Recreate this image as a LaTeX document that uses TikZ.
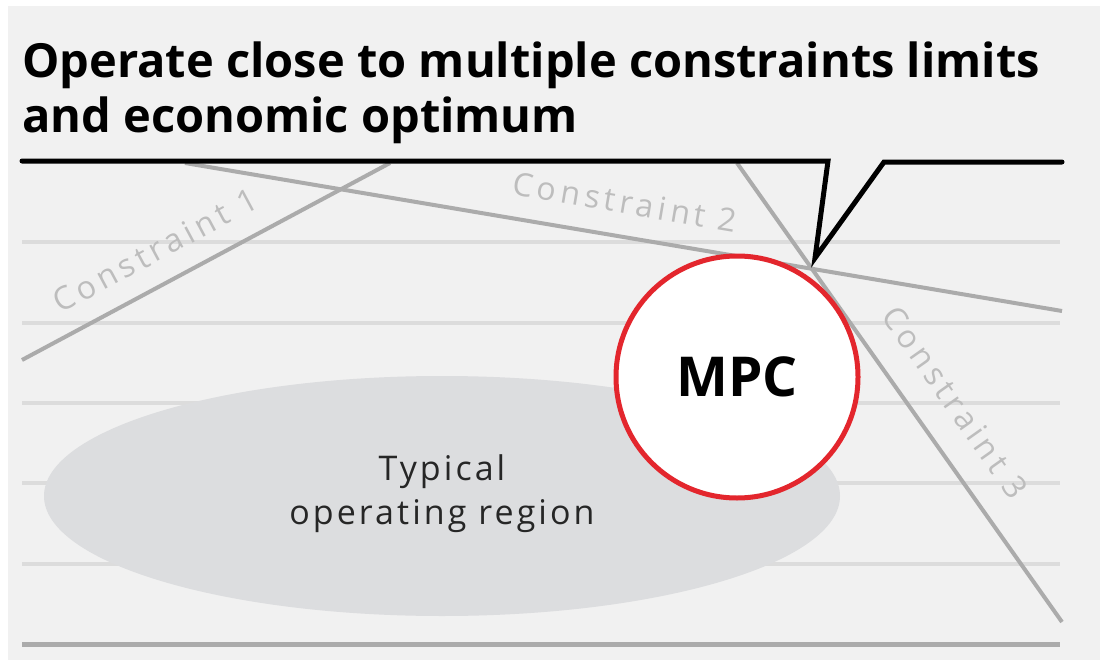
\documentclass[tikz,border=0pt]{standalone}
\usepackage{fontspec}
\usetikzlibrary{shapes.geometric}
\setmainfont{Open Sans}
\newfontfamily\labelfont[LetterSpace=14]{Open Sans}
\newfontfamily\regionfont[LetterSpace=9]{Open Sans}
\definecolor{panel}{HTML}{F1F1F1}
\definecolor{gridc}{HTML}{DCDCDC}
\definecolor{cline}{HTML}{ABABAB}
\definecolor{ctext}{HTML}{BDBDBD}
\definecolor{regionc}{HTML}{DCDDDF}
\definecolor{mpcred}{HTML}{E3262D}
\tikzset{
  gridline/.style={draw=gridc, line width=4pt},
  cstline/.style={draw=cline, line width=4pt},
  cstlabel/.style={text=ctext, font=\labelfont\fontsize{32}{38}\selectfont, inner sep=0pt},
  calloutline/.style={draw=black, line width=5pt, line join=miter},
  titletext/.style={anchor=base west, inner sep=0pt, font=\bfseries\fontsize{47}{55}\selectfont},
}
\begin{document}
\begin{tikzpicture}[x=1pt,y=-1pt]
\useasboundingbox (0,0) rectangle (1108,666);
\fill[white] (0,0) rectangle (1108,666);
\fill[panel] (8,6) rectangle (1100,660);
% title
\node[titletext] (t1) at (22,78) {Operate close to multiple constraints limits};
\node[titletext] (t2) at (22,133) {and economic optimum};
% grid lines
\foreach \yy in {242,323,403,483,564} {
  \draw[gridline] (22,\yy) -- (1060,\yy);
}
\draw[draw=cline, line width=5pt] (22,644) -- (1060,644);
% region
\node[ellipse, fill=regionc, minimum width=796pt, minimum height=240pt, inner sep=0pt] (region) at (442,496) {};
\node[align=center, font=\regionfont\fontsize{34}{44}\selectfont, text=black!85, inner sep=0pt] (regiontext) at (442,494) {Typical\\operating region};
% constraint lines
\coordinate (c1a) at (22,360);
\coordinate (c1b) at (390,163);
\coordinate (c2a) at (185,163);
\coordinate (c2b) at (1062,311);
\coordinate (c3a) at (737,163);
\coordinate (c3b) at (1062,622);
\draw[cstline] (c1a) -- (c1b);
\draw[cstline] (c2a) -- (c2b);
\draw[cstline] (c3a) -- (c3b);
\node[cstlabel, rotate=28.2] (l1) at (155,250) {Constraint 1};
\node[cstlabel, rotate=-9.6] (l2) at (625,202) {Constraint 2};
\node[cstlabel, rotate=-54.7] (l3) at (955,402) {Constraint 3};
% MPC circle
\node[circle, draw=mpcred, line width=5pt, fill=white, minimum size=242pt, inner sep=0pt, font=\bfseries\fontsize{55}{60}\selectfont] (mpc) at (737,377) {MPC};
% callout line
\coordinate (p1) at (22,161);
\coordinate (p2) at (828,161);
\coordinate (p3) at (815,258);
\coordinate (p4) at (884,162);
\coordinate (p5) at (1062,162);
\draw[calloutline, line cap=round] (p1) -- (p2) -- (p3) -- (p4) -- (p5);
\end{tikzpicture}
\end{document}
